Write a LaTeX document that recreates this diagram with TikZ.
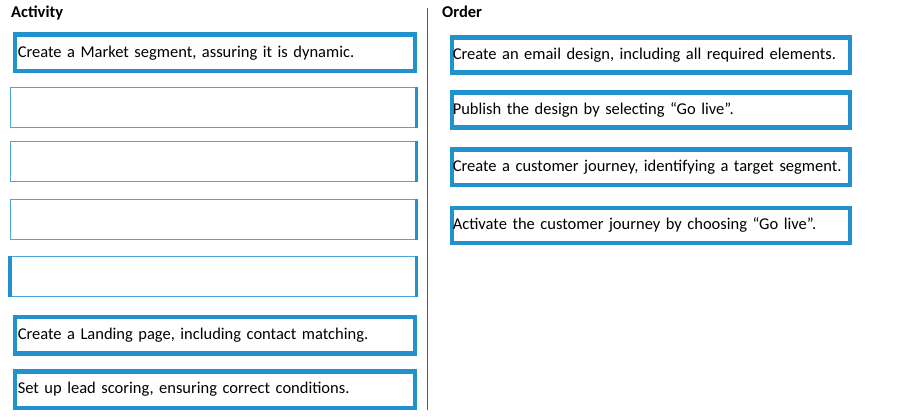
\documentclass[tikz,border=0pt]{standalone}
\usepackage{fontspec}
\setmainfont{Carlito}
\usetikzlibrary{positioning}
\definecolor{boxblue}{RGB}{33,146,206}
\definecolor{rulegray}{RGB}{90,90,90}
\tikzset{
	colhead/.style={anchor=base west, inner sep=0pt, font=\fontsize{16.5}{18}\selectfont\bfseries},
	itembox/.style={draw=boxblue, line width=4.5pt, anchor=north west, inner xsep=3pt, inner ysep=0pt, minimum height=36.5pt, text width=394pt, align=left, font=\fontsize{16.5}{19}\selectfont},
	orderbox/.style={itembox, inner xsep=1pt, minimum height=35pt, text width=396pt},
	slotbox/.style={draw=boxblue!80, line width=1.3pt, anchor=north west, inner sep=0pt, minimum width=405pt, minimum height=40pt},
	slotedge/.style={draw=boxblue, line width=3.5pt}
}
\begin{document}
\begin{tikzpicture}[x=1pt, y=-1pt]
			%%%%% START %%%%%
			\useasboundingbox[fill=white] (0, 0) rectangle (921, 417);
			
			\node[colhead] (acthead) at (11, 18) {Activity};
			\node[colhead] (ordhead) at (442, 18) {Order};
			
			\draw[line width=1.4pt, color=rulegray] (427.5, 8) -- (427.5, 410);
			
			% activity column
			\node[itembox] (act1) at (12.5, 32.5) {Create a Market segment, assuring it is dynamic.};
			
			\node[slotbox] (slot1) at (10, 87) {};
			\draw[slotedge] (slot1.north east) -- (slot1.south east);
			\node[slotbox] (slot2) at (10, 141) {};
			\draw[slotedge] (slot2.north east) -- (slot2.south east);
			\node[slotbox] (slot3) at (10, 199) {};
			\draw[slotedge] (slot3.north east) -- (slot3.south east);
			\node[slotbox] (slot4) at (10, 256) {};
			\draw[slotedge] (slot4.north east) -- (slot4.south east);
			\draw[slotedge] (slot4.north west) -- (slot4.south west);
			
			\node[itembox] (act2) at (12.5, 314.5) {Create a Landing page, including contact matching.};
			\node[itembox] (act3) at (12.5, 369) {Set up lead scoring, ensuring correct conditions.};
			
			% order column
			\node[orderbox] (ord1) at (449.5, 35.5) {Create an email design, including all required elements.};
			\node[orderbox] (ord2) at (449.5, 90.5) {Publish the design by selecting “Go live”.};
			\node[orderbox] (ord3) at (449.5, 147.5) {Create a customer journey, identifying a target segment.};
			\node[orderbox] (ord4) at (449.5, 205.5) {Activate the customer journey by choosing “Go live”.};
			
			%%%%% END %%%%%
		\end{tikzpicture}
\end{document}
